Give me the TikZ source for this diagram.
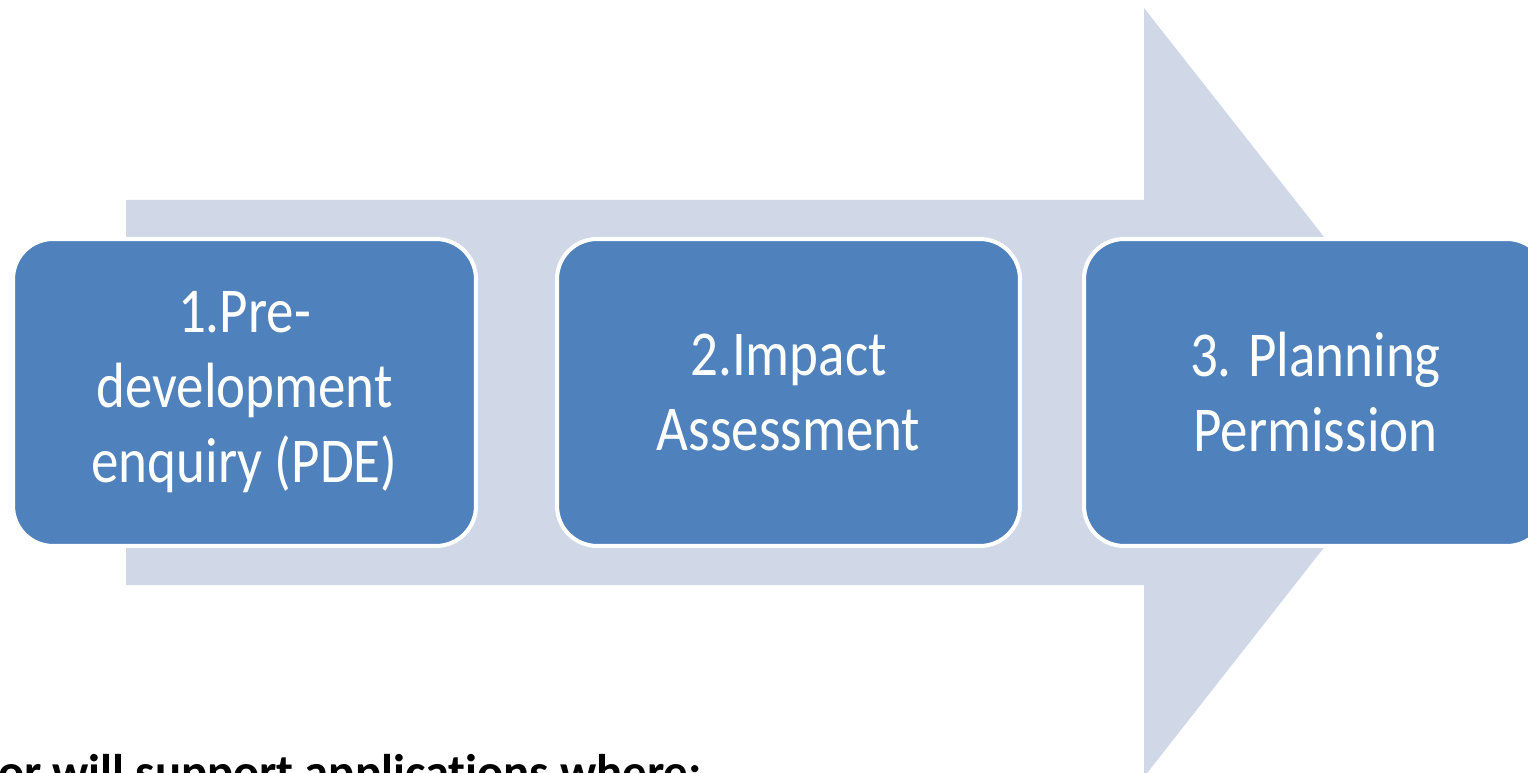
\documentclass[tikz,border=0pt]{standalone}
\usepackage{fontspec}
\setmainfont[Ligatures=NoCommon]{Carlito}
\newfontfamily\stagefont[FakeStretch=0.86]{Carlito}
\usepackage{tikz}
\definecolor{stageblue}{RGB}{79,129,189}
\definecolor{flowgrey}{RGB}{208,216,232}
\tikzstyle{stage} = [rectangle, rounded corners=0.8cm, fill=stageblue, draw=white,
  line width=2.3pt, minimum width=9.26cm, minimum height=6.14cm,
  align=center, text=white,
  font=\stagefont\fontsize{36.4pt}{42.7pt}\selectfont]
\tikzstyle{note} = [anchor=base east, inner sep=0pt,
  font=\bfseries\fontsize{27.7pt}{33pt}\selectfont]

\begin{document}
\begin{tikzpicture}[x=0.02cm, y=-0.02cm]
  \useasboundingbox (0,0) rectangle (1528,773);
  \clip (0,0) rectangle (1528,773);
  % big background arrow
  \fill [flowgrey] (126,200) -- (1144,200) -- (1144,8) -- (1446,392)
    -- (1144,777) -- (1144,585) -- (126,585) -- cycle;
  \node (a) at ( 244.5,392.5) [stage] {1.Pre-\\development\\enquiry (PDE)};
  \node (b) at ( 788.5,392.5) [stage] {2.Impact\\Assessment};
  \node (c) at (1315.5,392.5) [stage] {3. Planning\\Permission};
  \node (d) at ( 702,788) [note] {or will support applications where:};
\end{tikzpicture}
\end{document}
